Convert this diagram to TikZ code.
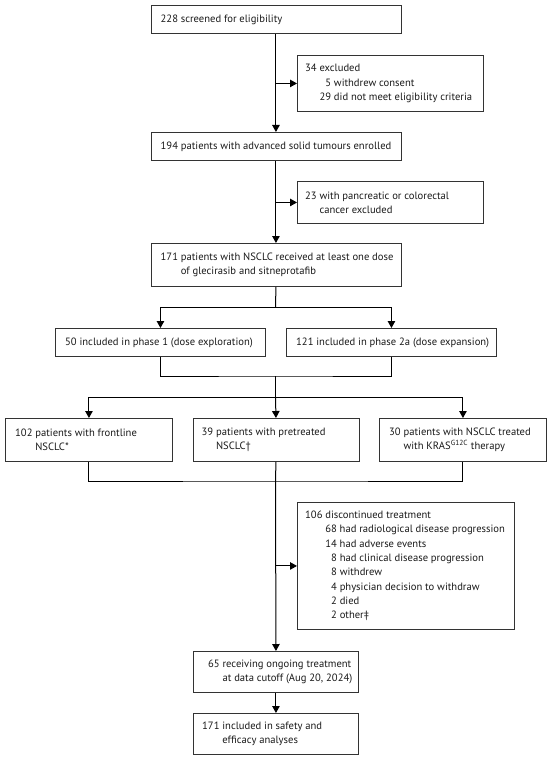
\documentclass[tikz,border=0pt]{standalone}
\usepackage{fontspec}
\setmainfont{PT Sans}
\usetikzlibrary{arrows.meta}
\begin{document}
\begin{tikzpicture}[x=1pt,y=-1pt,
  box/.style={draw=black!80, line width=0.9pt, rectangle, inner sep=0pt},
  txt/.style={anchor=west, align=left, inner sep=0pt, text=black!90,
    font=\fontsize{10.6}{14.3}\selectfont},
  conn/.style={line width=1pt, draw=black},
  arr/.style={conn, -{Triangle[length=7pt,width=7.5pt]}}]
\useasboundingbox (0,0) rectangle (548,759);
% --- nodes
\node[box, anchor=north west, minimum width=250pt, minimum height=28pt] (b1) at (150.5,5) {};
\node[txt] (tb1) at ([xshift=10pt]b1.west) {228 screened for eligibility};
\node[box, anchor=north west, minimum width=186pt, minimum height=56pt] (b2) at (297,55) {};
\node[txt] (tb2) at ([xshift=8pt]b2.west) {34 excluded\\\phantom{34 }\phantom{2}5 withdrew consent\\\phantom{34 }29 did not meet eligibility criteria};
\node[box, anchor=north west, minimum width=250pt, minimum height=28pt] (b3) at (150.5,132) {};
\node[txt] (tb3) at ([xshift=10pt]b3.west) {194 patients with advanced solid tumours enrolled};
\node[box, anchor=north west, minimum width=186pt, minimum height=42pt] (b4) at (297,181) {};
\node[txt] (tb4) at ([xshift=8pt]b4.west) {23 with pancreatic or colorectal\\\phantom{23 }cancer excluded};
\node[box, anchor=north west, minimum width=250pt, minimum height=43pt] (b5) at (150.5,243) {};
\node[txt] (tb5) at ([xshift=10pt]b5.west) {171 patients with NSCLC received at least one dose\\\phantom{171 }of glecirasib and sitneprotafib};
\node[box, anchor=north west, minimum width=210pt, minimum height=28pt] (b6) at (55,328) {};
\node[txt] (tb6) at ([xshift=10pt]b6.west) {50 included in phase 1 (dose exploration)};
\node[box, anchor=north west, minimum width=210pt, minimum height=28pt] (b7) at (286,328) {};
\node[txt] (tb7) at ([xshift=10pt]b7.west) {121 included in phase 2a (dose expansion)};
\node[box, anchor=north west, minimum width=167pt, minimum height=43pt] (b8) at (5,418) {};
\node[txt] (tb8) at ([xshift=10pt]b8.west) {102 patients with frontline\\\phantom{102 }NSCLC*};
\node[box, anchor=north west, minimum width=166pt, minimum height=43pt] (b9) at (192.5,418) {};
\node[txt] (tb9) at ([xshift=9pt]b9.west) {39 patients with pretreated\\\phantom{39 }NSCLC†};
\node[box, anchor=north west, minimum width=167pt, minimum height=43pt] (b10) at (379,418) {};
\node[txt] (tb10) at ([xshift=10pt]b10.west) {30 patients with NSCLC treated\\\phantom{30 }with KRAS\textsuperscript{G12C} therapy};
\node[box, anchor=north west, minimum width=217pt, minimum height=127pt] (b11) at (297,502) {};
\node[txt] (tb11) at ([xshift=8pt]b11.west) {106 discontinued treatment\\
\phantom{106 }68 had radiological disease progression\\
\phantom{106 }14 had adverse events\\
\phantom{106 2}8 had clinical disease progression\\
\phantom{106 2}8 withdrew\\
\phantom{106 2}4 physician decision to withdraw\\
\phantom{106 2}2 died\\
\phantom{106 2}2 other‡};
\node[box, anchor=north west, minimum width=165pt, minimum height=41pt] (b12) at (193,651) {};
\node[txt] (tb12) at ([xshift=15pt]b12.west) {65 receiving ongoing treatment\\\phantom{65 }at data cutoff (Aug 20, 2024)};
\node[box, anchor=north west, minimum width=165pt, minimum height=41pt] (b13) at (193,713) {};
\node[txt] (tb13) at ([xshift=9pt]b13.west) {171 included in safety and\\\phantom{171 }efficacy analyses};
% --- coordinates
\coordinate (split1) at (275.5,307);
\coordinate (join1) at (275.5,376);
\coordinate (split2) at (275.5,397);
\coordinate (join2) at (275.5,481);
% --- connectors
\draw[arr] (b1.south) -- (b3.north);
\draw[arr] (b1.south |- b2.west) -- (b2.west);
\draw[arr] (b3.south) -- (b5.north);
\draw[arr] (b3.south |- b4.west) -- (b4.west);
\draw[conn] (b5.south) -- (split1);
\draw[arr] (split1) -| (b6.north);
\draw[arr] (split1) -| (b7.north);
\draw[conn] (b6.south) |- (join1) -| (b7.south);
\draw[conn] (join1) -- (split2);
\draw[arr] (split2) -| (b8.north);
\draw[arr] (split2) -- (b9.north);
\draw[arr] (split2) -| (b10.north);
\draw[conn] (b8.south) |- (join2) -| (b10.south);
\draw[conn] (b9.south) -- (join2);
\draw[arr] (join2) -- (b12.north);
\draw[arr] (join2 |- b11.west) -- (b11.west);
\draw[arr] (b12.south) -- (b13.north);
\end{tikzpicture}
\end{document}
